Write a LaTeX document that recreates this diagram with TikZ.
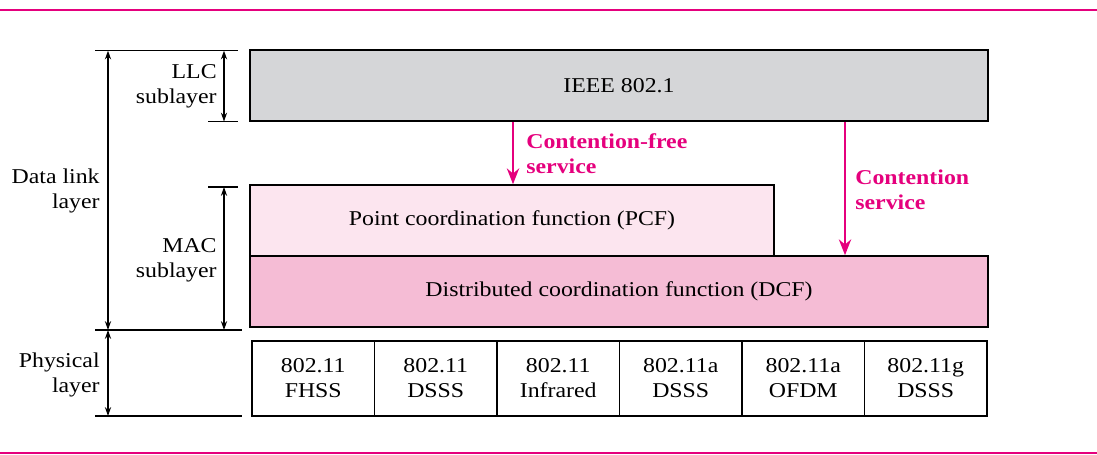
\documentclass[tikz,border=0pt]{standalone}
\usepackage{fontspec}
\setmainfont{Liberation Serif}[FakeStretch=1.13]
\usetikzlibrary{arrows.meta}
\definecolor{mag}{HTML}{E5007D}
\definecolor{llcgray}{HTML}{D5D6D8}
\definecolor{pcfpink}{HTML}{FCE5EF}
\definecolor{dcfpink}{HTML}{F5BCD5}
\begin{document}
\begin{tikzpicture}[font=\fontsize{12}{14.2}\selectfont]
  \useasboundingbox (0, 0) rectangle (21.94, -9.1);  % Rahmen wie Vorlage.
  \tikzstyle{layer}=[rectangle, draw, line width=0.9pt, inner sep=0pt, minimum height=1.42cm]
  \tikzstyle{phy}=[layer, minimum width=2.45cm, minimum height=1.5cm, align=center]
  \tikzstyle{lbl}=[anchor=east, align=right, inner sep=0pt]
  \tikzstyle{svc}=[anchor=west, align=left, inner sep=0pt, text=mag, font=\fontsize{12}{14.2}\selectfont\bfseries]
  \tikzstyle{tick}=[line width=0.9pt]
  \tikzstyle{dim}=[line width=0.7pt, {Stealth[length=5pt,width=3.5pt]}-{Stealth[length=5pt,width=3.5pt]}]
  \tikzstyle{flow}=[line width=1.1pt, mag, -{Stealth[length=9pt,width=7pt]}]

  % magenta rules
  \draw[mag, line width=1.3pt] (0, -0.2)  -- (21.94, -0.2);
  \draw[mag, line width=1.3pt] (0, -9.06) -- (21.94, -9.06);

  % layer boxes
  \node[layer, fill=llcgray, minimum width=14.76cm] (llc) at (12.38, -1.715) {IEEE 802.1};
  \node[layer, fill=pcfpink, minimum width=10.48cm] (pcf) at (10.24, -4.41)  {Point coordination function (PCF)};
  \node[layer, fill=dcfpink, minimum width=14.76cm] (dcf) at (12.38, -5.83)  {Distributed coordination function (DCF)};

  \node[phy] (p1) at (6.265,  -7.57) {802.11\\FHSS};
  \node[phy] (p2) at (8.715,  -7.57) {802.11\\DSSS};
  \node[phy] (p3) at (11.165, -7.57) {802.11\\Infrared};
  \node[phy] (p4) at (13.615, -7.57) {802.11a\\DSSS};
  \node[phy] (p5) at (16.065, -7.57) {802.11a\\OFDM};
  \node[phy] (p6) at (18.515, -7.57) {802.11g\\DSSS};

  % services
  \coordinate (cfx) at (10.26, 0);
  \coordinate (cx)  at (16.9, 0);
  \draw[flow] (llc.south -| cfx) -- (pcf.north -| cfx);
  \draw[flow] (llc.south -| cx)  -- (dcf.north -| cx);
  \node[svc] (cflbl) at (10.52, -3.07) {Contention-free\\service};
  \node[svc] (clbl)  at (17.1,  -3.79) {Contention\\service};

  % left scale
  \coordinate (top)   at (1.9,  -1.013);
  \coordinate (topr)  at (4.76, -1.013);
  \coordinate (llcl)  at (4.16, -2.43);
  \coordinate (llcr)  at (4.76, -2.43);
  \coordinate (macl)  at (4.16, -3.74);
  \coordinate (macr)  at (4.76, -3.74);
  \coordinate (mid)   at (1.9,  -6.6);
  \coordinate (midr)  at (4.84, -6.6);
  \coordinate (bot)   at (1.9,  -8.32);
  \coordinate (botr)  at (4.84, -8.32);
  \draw[tick] (top)  -- (topr);
  \draw[tick] (llcl) -- (llcr);
  \draw[tick] (macl) -- (macr);
  \draw[tick] (mid)  -- (midr);
  \draw[tick] (bot)  -- (botr);

  \coordinate (dlx)  at (2.16, 0);
  \coordinate (subx) at (4.48, 0);
  \draw[dim] (top -| dlx)   -- (mid -| dlx);
  \draw[dim] (mid -| dlx)   -- (bot -| dlx);
  \draw[dim] (top -| subx)  -- (llcl -| subx);
  \draw[dim] (macl -| subx) -- (mid -| subx);

  \node[lbl] (dll) at (2.0,  -3.81) {Data link\\layer};
  \node[lbl] (phl) at (2.0,  -7.5)  {Physical\\layer};
  \node[lbl] (lls) at (4.34, -1.72) {LLC\\sublayer};
  \node[lbl] (mas) at (4.34, -5.2)  {MAC\\sublayer};
\end{tikzpicture}
\end{document}
